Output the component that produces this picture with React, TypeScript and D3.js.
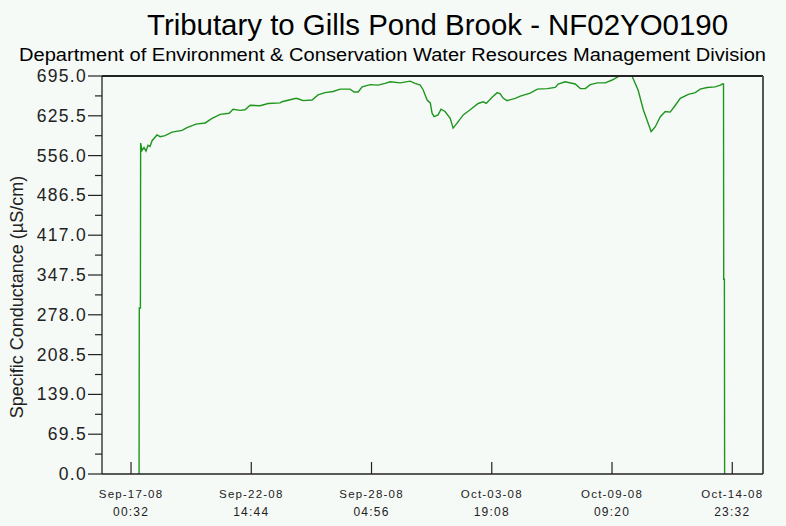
import * as d3 from 'd3';

const times = [
  "2008-09-17 09:30", "2008-09-17 09:45", "2008-09-17 11:00", "2008-09-17 11:15", "2008-09-17 12:45",
  "2008-09-17 15:00", "2008-09-17 17:15", "2008-09-17 19:30", "2008-09-17 21:45", "2008-09-18 00:00",
  "2008-09-18 05:30", "2008-09-18 09:00", "2008-09-18 14:30", "2008-09-18 22:15", "2008-09-19 09:30",
  "2008-09-19 15:00", "2008-09-20 01:00", "2008-09-20 11:15", "2008-09-20 19:00", "2008-09-21 04:00",
  "2008-09-21 14:00", "2008-09-21 18:30", "2008-09-22 02:15", "2008-09-22 07:45", "2008-09-22 13:30",
  "2008-09-23 00:30", "2008-09-23 09:30", "2008-09-23 23:00", "2008-09-24 01:00", "2008-09-24 11:15",
  "2008-09-24 16:45", "2008-09-24 21:15", "2008-09-25 00:30", "2008-09-25 10:30", "2008-09-25 17:15",
  "2008-09-26 01:00", "2008-09-26 10:00", "2008-09-26 18:00", "2008-09-27 05:00", "2008-09-27 09:30",
  "2008-09-27 14:00", "2008-09-27 18:30", "2008-09-28 03:30", "2008-09-28 12:15", "2008-09-28 20:00",
  "2008-09-29 01:45", "2008-09-29 13:00", "2008-09-30 00:00", "2008-09-30 05:30", "2008-09-30 11:15",
  "2008-09-30 14:30", "2008-09-30 19:00", "2008-09-30 22:30", "2008-10-01 00:30", "2008-10-01 02:45",
  "2008-10-01 07:15", "2008-10-01 10:30", "2008-10-01 15:00", "2008-10-01 20:45", "2008-10-02 00:00",
  "2008-10-02 05:30", "2008-10-02 11:15", "2008-10-02 19:00", "2008-10-03 04:00", "2008-10-03 09:30",
  "2008-10-03 13:00", "2008-10-03 19:30", "2008-10-04 01:15", "2008-10-04 04:30", "2008-10-04 08:00",
  "2008-10-04 12:15", "2008-10-04 21:15", "2008-10-05 03:00", "2008-10-05 14:00", "2008-10-05 22:00",
  "2008-10-06 09:00", "2008-10-06 18:00", "2008-10-06 21:15", "2008-10-07 05:00", "2008-10-07 16:15",
  "2008-10-07 22:00", "2008-10-08 03:30", "2008-10-08 09:00", "2008-10-08 17:00", "2008-10-09 01:45",
  "2008-10-09 09:30", "2008-10-09 16:15", "2008-10-09 20:45", "2008-10-10 00:00", "2008-10-10 06:45",
  "2008-10-10 11:15", "2008-10-10 14:30", "2008-10-10 20:15", "2008-10-11 01:45", "2008-10-11 05:00",
  "2008-10-11 09:30", "2008-10-11 15:15", "2008-10-11 20:45", "2008-10-12 02:15", "2008-10-12 08:00",
  "2008-10-12 13:30", "2008-10-12 22:30", "2008-10-13 06:15", "2008-10-13 11:45", "2008-10-13 19:30",
  "2008-10-14 04:30", "2008-10-14 10:15", "2008-10-14 12:30", "2008-10-14 13:45", "2008-10-14 14:00",
  "2008-10-14 14:45", "2008-10-14 15:00",
];

const conductance = [
  0, 290, 290, 578, 565,
  570, 564, 574, 572, 582,
  592, 589, 591, 597, 600,
  605, 611, 613, 621, 628,
  630, 637, 635, 636, 644,
  643, 647, 648, 650, 654,
  656, 654, 652, 653, 662,
  666, 668, 672, 672, 667,
  667, 676, 680, 679, 682,
  685, 683, 686, 682, 679,
  671, 653, 648, 630, 624,
  627, 637, 633, 621, 604,
  615, 627, 636, 647, 650,
  647, 658, 666, 664, 656,
  652, 656, 660, 665, 672,
  673, 675, 681, 685, 681,
  673, 673, 680, 683, 683,
  688, 694, 697, 700, 698,
  682, 670, 636, 612, 598,
  606, 624, 633, 632, 644,
  656, 663, 666, 672, 675,
  676, 679, 681, 681, 340,
  340, 0,
];

const xTickTimes = [
  "2008-09-17 00:32", "2008-09-22 14:44", "2008-09-28 04:56",
  "2008-10-03 19:08", "2008-10-09 09:20", "2008-10-14 23:32",
];
const xDomain = ["2008-09-15 16:08", "2008-10-16 09:50"];
const yTicks = [0, 69.5, 139, 208.5, 278, 347.5, 417, 486.5, 556, 625.5, 695];

const title = "Tributary to Gills Pond Brook - NF02YO0190";
const subtitle = "Department of Environment & Conservation Water Resources Management Division";
const yLabel = "Specific Conductance (\u00b5S/cm)";

const parse = d3.timeParse("%Y-%m-%d %H:%M");
const font = "'Liberation Sans', Arial, sans-serif";

export default function App() {
  const W = 786, H = 526;
  const margin = { left: 102, right: 23, top: 76, bottom: 52 };
  const x = d3.scaleTime()
    .domain(xDomain.map(d => parse(d) as Date))
    .range([margin.left, W - margin.right]);
  const y = d3.scaleLinear().domain([0, 695]).range([H - margin.bottom, margin.top]);

  const points = times.map((t, i) => ({ t: parse(t) as Date, v: conductance[i] }));
  const line = d3.line<{ t: Date; v: number }>()
    .x(d => x(d.t))
    .y(d => y(d.v));

  const minorTicks = yTicks.slice(0, -1).map((d, i) => (d + yTicks[i + 1]) / 2);
  const fmtDate = d3.timeFormat("%b-%d-%y");
  const fmtTime = d3.timeFormat("%H:%M");
  const x0 = margin.left, x1 = W - margin.right;
  const y0 = H - margin.bottom, y1 = margin.top;

  return (
    <svg width={W} height={H} style={{ position: 'absolute', left: 0, top: 0, display: 'block', background: '#f6faf7' }}>
      <rect width={W} height={H} fill="#f6faf7" />
      <text x={147} y={35} fontFamily={font} fontSize={29} textLength={581} lengthAdjust="spacingAndGlyphs" fill="#000">{title}</text>
      <text x={19} y={61} fontFamily={font} fontSize={17.5} textLength={747} lengthAdjust="spacingAndGlyphs" fill="#000">{subtitle}</text>

      <defs>
        <clipPath id="plot">
          <rect x={x0} y={y1} width={x1 - x0} height={y0 - y1} />
        </clipPath>
      </defs>

      <path d={line(points) ?? ''} fill="none" stroke="#1e961e" strokeWidth={1.4} clipPath="url(#plot)" />

      {/* frame */}
      <line x1={x0} x2={x1} y1={y1} y2={y1} stroke="#222" strokeWidth={2} />
      <line x1={x1} x2={x1} y1={y1} y2={y0} stroke="#555" strokeWidth={2} />
      <line x1={x0} x2={x0} y1={y1} y2={y0} stroke="#222" strokeWidth={1.3} />
      <line x1={x0} x2={x1} y1={y0} y2={y0} stroke="#222" strokeWidth={1.3} />

      {/* y axis */}
      {yTicks.map(d => (
        <g key={d}>
          <line x1={x0 - 14} x2={x0} y1={y(d)} y2={y(d)} stroke="#222" strokeWidth={1.2} />
          <text x={x0 - 15} y={y(d) + 6} textAnchor="end" fontFamily={font} fontSize={17.5} letterSpacing={1.3} fill="#222">
            {d3.format(".1f")(d)}
          </text>
        </g>
      ))}
      {minorTicks.map(d => (
        <line key={d} x1={x0 - 7} x2={x0} y1={y(d)} y2={y(d)} stroke="#222" strokeWidth={1.2} />
      ))}
      <text transform={`translate(23,297) rotate(-90)`} textAnchor="middle" fontFamily={font} fontSize={18} fill="#222">
        {yLabel}
      </text>

      {/* x axis */}
      {xTickTimes.map(s => {
        const t = parse(s) as Date;
        const px = x(t);
        return (
          <g key={s}>
            <line x1={px} x2={px} y1={y0} y2={y0 - 12} stroke="#222" strokeWidth={1.2} />
            <text x={px} y={498} textAnchor="middle" fontFamily={font} fontSize={11.5} letterSpacing={1.2} fill="#222">{fmtDate(t)}</text>
            <text x={px} y={516} textAnchor="middle" fontFamily={font} fontSize={12} letterSpacing={1.2} fill="#222">{fmtTime(t)}</text>
          </g>
        );
      })}
    </svg>
  );
}
